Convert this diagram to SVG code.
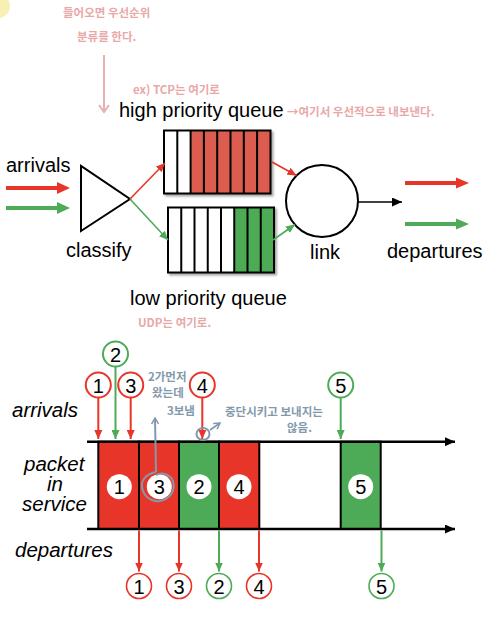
<svg xmlns="http://www.w3.org/2000/svg" width="498" height="620" viewBox="0 0 498 620">
<style>
.lbl{font-family:"Liberation Sans",Arial,sans-serif;font-size:20px;fill:#000}
.it{font-family:"Liberation Sans",Arial,sans-serif;font-size:20.5px;font-style:italic;fill:#000}
.num{font-family:"Liberation Sans",Arial,sans-serif;font-size:20px;fill:#000;text-anchor:middle}
.pink{font-family:"Noto Sans CJK KR",sans-serif;font-size:11.5px;font-weight:700;fill:#E9A8A8}
.blue{font-family:"Noto Sans CJK KR",sans-serif;font-size:11.5px;font-weight:700;fill:#8399AB}
.qline{stroke:#000;stroke-width:2;fill:none}
.red{fill:#E8352A}
.green{fill:#4DAB57}
</style>
<defs>
<filter id="sh" x="-10%" y="-10%" width="130%" height="130%"><feDropShadow dx="2" dy="2" stdDeviation="1.2" flood-color="#000" flood-opacity="0.35"/></filter>
<marker id="ar" markerUnits="userSpaceOnUse" markerWidth="9" markerHeight="8" refX="9" refY="4" orient="auto"><path d="M0,0L9,4L0,8z" fill="#E8352A"/></marker>
<marker id="ag" markerUnits="userSpaceOnUse" markerWidth="9" markerHeight="8" refX="9" refY="4" orient="auto"><path d="M0,0L9,4L0,8z" fill="#4DAB57"/></marker>
<marker id="ak" markerUnits="userSpaceOnUse" markerWidth="10" markerHeight="9" refX="10" refY="4.5" orient="auto"><path d="M0,0L10,4.5L0,9z" fill="#000"/></marker>
<marker id="ab" markerUnits="userSpaceOnUse" markerWidth="8" markerHeight="8" refX="7" refY="4" orient="auto"><path d="M1,0.5L7,4L1,7.5" fill="none" stroke="#8399AB" stroke-width="1.5"/></marker>
</defs>
<rect width="498" height="620" fill="#fff"/>

<g id="corner-icon">
<circle cx="-2" cy="6" r="12" fill="#F7EFB3"/>
<path d="M-2,-6 A12,12 0 0 1 6,-3" stroke="#1E2A5A" stroke-width="3" fill="none"/>
</g>

<g id="notes-pink">
<text class="pink" x="63" y="17">들어오면 우선순위</text>
<text class="pink" x="77" y="41">분류를 한다.</text>
<path d="M104,55 L104,112 M99,105 L104,112 L109,105" stroke="#E9B0B0" stroke-width="2" fill="none"/>
<text class="pink" x="133" y="94">ex) TCP는 여기로</text>
<text class="pink" x="287" y="116">→여기서 우선적으로 내보낸다.</text>
<text class="pink" x="138" y="327">UDP는 여기로.</text>
</g>

<g id="arrivals-in">
<text class="lbl" x="6" y="172">arrivals</text>
<path d="M6,188 H58" stroke="#E8352A" stroke-width="4"/>
<path d="M57,182 L70,188 L57,194z" fill="#E8352A"/>
<path d="M6,208 H58" stroke="#4DAB57" stroke-width="4"/>
<path d="M57,202 L70,208 L57,214z" fill="#4DAB57"/>
</g>

<g id="classify">
<path d="M81,166 L81,231 L130,199z" fill="#fff" stroke="#000" stroke-width="2"/>
<text class="lbl" x="66" y="257">classify</text>
</g>

<g id="high-queue">
<text class="lbl" x="119" y="117">high priority queue</text>
<g filter="url(#sh)">
<rect x="164" y="130.5" width="106.5" height="63" fill="#fff"/>
<rect x="190.6" y="130.5" width="79.9" height="63" fill="#DC5B50"/>
<rect x="164" y="130.5" width="106.5" height="63" class="qline"/>
</g>
<path d="M177.3,130.5V193.5M190.6,130.5V193.5M203.9,130.5V193.5M217.2,130.5V193.5M230.5,130.5V193.5M243.8,130.5V193.5M257.1,130.5V193.5" class="qline"/>
</g>

<g id="low-queue">
<g filter="url(#sh)">
<rect x="168" y="207.5" width="106" height="65" fill="#fff"/>
<rect x="234.25" y="207.5" width="39.75" height="65" fill="#4DAB57"/>
<rect x="168" y="207.5" width="106" height="65" class="qline"/>
</g>
<path d="M181.25,207.5V272.5M194.5,207.5V272.5M207.75,207.5V272.5M221,207.5V272.5M234.25,207.5V272.5M247.5,207.5V272.5M260.75,207.5V272.5" class="qline"/>
<text class="lbl" x="130" y="305">low priority queue</text>
</g>

<g id="link">
<circle cx="322" cy="201" r="36" fill="#fff" stroke="#000" stroke-width="2"/>
<text class="lbl" x="310" y="259">link</text>
</g>

<g id="departures-out">
<text class="lbl" x="387" y="258">departures</text>
<path d="M405,183 H457" stroke="#E8352A" stroke-width="4"/>
<path d="M456,177.5 L469,183 L456,188.5z" fill="#E8352A"/>
<path d="M405,224 H457" stroke="#4DAB57" stroke-width="4"/>
<path d="M456,218.5 L469,224 L456,229.5z" fill="#4DAB57"/>
</g>

<g id="connectors">
<path d="M130,199 L165,163" stroke="#E8352A" stroke-width="1.6" marker-end="url(#ar)"/>
<path d="M130,199 L168,240" stroke="#4DAB57" stroke-width="1.6" marker-end="url(#ag)"/>
<path d="M272,162 L296.5,175.5" stroke="#E8352A" stroke-width="1.6" marker-end="url(#ar)"/>
<path d="M273,240 L295,224.5" stroke="#4DAB57" stroke-width="1.6" marker-end="url(#ag)"/>
<path d="M358,202 H402" stroke="#000" stroke-width="1.6" marker-end="url(#ak)"/>
</g>

<g id="timeline-labels">
<text class="it" x="12" y="417">arrivals</text>
<text class="it" x="24" y="471">packet</text>
<text class="it" x="47" y="491">in</text>
<text class="it" x="22" y="511">service</text>
<text class="it" x="15" y="557">departures</text>
</g>

<g id="service-boxes">
<rect x="98.3" y="441.7" width="40.7" height="87.3" class="red" stroke="#000" stroke-width="2"/>
<rect x="139" y="441.7" width="40" height="87.3" class="red" stroke="#000" stroke-width="2"/>
<rect x="179" y="441.7" width="40" height="87.3" class="green" stroke="#000" stroke-width="2"/>
<rect x="219" y="441.7" width="40.3" height="87.3" class="red" stroke="#000" stroke-width="2"/>
<rect x="340.7" y="441.7" width="40" height="87.3" class="green" stroke="#000" stroke-width="2"/>
<circle cx="119.3" cy="486.7" r="12.5" fill="#fff"/><text class="num" x="119.3" y="494">1</text>
<circle cx="159.3" cy="486.7" r="12.5" fill="#fff"/><text class="num" x="159.3" y="494">3</text>
<circle cx="199" cy="486.7" r="12.5" fill="#fff"/><text class="num" x="199" y="494">2</text>
<circle cx="239" cy="486.7" r="12.5" fill="#fff"/><text class="num" x="239" y="494">4</text>
<circle cx="360.7" cy="486.7" r="12.5" fill="#fff"/><text class="num" x="360.7" y="494">5</text>
</g>

<g id="axes">
<path d="M87,441.7 H455" stroke="#000" stroke-width="2.6" marker-end="url(#ak)"/>
<path d="M87,529 H455" stroke="#000" stroke-width="2.6" marker-end="url(#ak)"/>
</g>

<g id="arrival-packets">
<path d="M98.3,397.5 V439" stroke="#E8352A" stroke-width="2" marker-end="url(#ar)"/>
<path d="M115.5,366.5 V439" stroke="#4DAB57" stroke-width="2" marker-end="url(#ag)"/>
<path d="M130.7,397.5 V439" stroke="#E8352A" stroke-width="2" marker-end="url(#ar)"/>
<path d="M202.3,397.5 V439" stroke="#E8352A" stroke-width="2" marker-end="url(#ar)"/>
<path d="M340.7,397.5 V439" stroke="#4DAB57" stroke-width="2" marker-end="url(#ag)"/>
<circle cx="98.3" cy="385" r="12.5" fill="#fff" stroke="#E8352A" stroke-width="2"/><text class="num" x="98.3" y="392.5">1</text>
<circle cx="115.5" cy="354" r="12.5" fill="#fff" stroke="#4DAB57" stroke-width="2"/><text class="num" x="115.5" y="361.5">2</text>
<circle cx="130.7" cy="385" r="12.5" fill="#fff" stroke="#E8352A" stroke-width="2"/><text class="num" x="130.7" y="392.5">3</text>
<circle cx="202.3" cy="385" r="12.5" fill="#fff" stroke="#E8352A" stroke-width="2"/><text class="num" x="202.3" y="392.5">4</text>
<circle cx="340.7" cy="385" r="12.5" fill="#fff" stroke="#4DAB57" stroke-width="2"/><text class="num" x="340.7" y="392.5">5</text>
</g>

<g id="departure-packets">
<path d="M139,530.5 V571.5" stroke="#E8352A" stroke-width="2" marker-end="url(#ar)"/>
<path d="M179,530.5 V571.5" stroke="#E8352A" stroke-width="2" marker-end="url(#ar)"/>
<path d="M219,530.5 V571.5" stroke="#4DAB57" stroke-width="2" marker-end="url(#ag)"/>
<path d="M259,530.5 V571.5" stroke="#E8352A" stroke-width="2" marker-end="url(#ar)"/>
<path d="M381.5,530.5 V571.5" stroke="#4DAB57" stroke-width="2" marker-end="url(#ag)"/>
<circle cx="139" cy="586" r="12.5" fill="#fff" stroke="#E8352A" stroke-width="1.6"/><text class="num" x="139" y="593.5">1</text>
<circle cx="179" cy="586" r="12.5" fill="#fff" stroke="#E8352A" stroke-width="1.6"/><text class="num" x="179" y="593.5">3</text>
<circle cx="219" cy="586" r="12.5" fill="#fff" stroke="#4DAB57" stroke-width="1.6"/><text class="num" x="219" y="593.5">2</text>
<circle cx="259" cy="586" r="12.5" fill="#fff" stroke="#E8352A" stroke-width="1.6"/><text class="num" x="259" y="593.5">4</text>
<circle cx="381.5" cy="586" r="12.5" fill="#fff" stroke="#4DAB57" stroke-width="1.6"/><text class="num" x="381.5" y="593.5">5</text>
</g>

<g id="notes-blue">
<text class="blue" x="148" y="381">2가먼저</text>
<text class="blue" x="152" y="397">왔는데</text>
<text class="blue" x="167" y="415">3보냄</text>
<path d="M156,472 L155,418" stroke="#8399AB" stroke-width="2" fill="none" marker-end="url(#ab)"/>
<path d="M156,472 C146,474 139,481 143,491 C146,499 154,502 160,501 C169,499 176,492 173,481 C170,474 162,472 156,475" stroke="#8399AB" stroke-width="2" fill="none"/>
<ellipse cx="203" cy="434" rx="6.5" ry="6" stroke="#8399AB" stroke-width="2" fill="none"/>
<path d="M210,430 L220,423" stroke="#8399AB" stroke-width="1.6" fill="none" marker-end="url(#ab)"/>
<text class="blue" x="225" y="416">중단시키고 보내지는</text>
<text class="blue" x="287" y="432">않음.</text>
</g>
</svg>
